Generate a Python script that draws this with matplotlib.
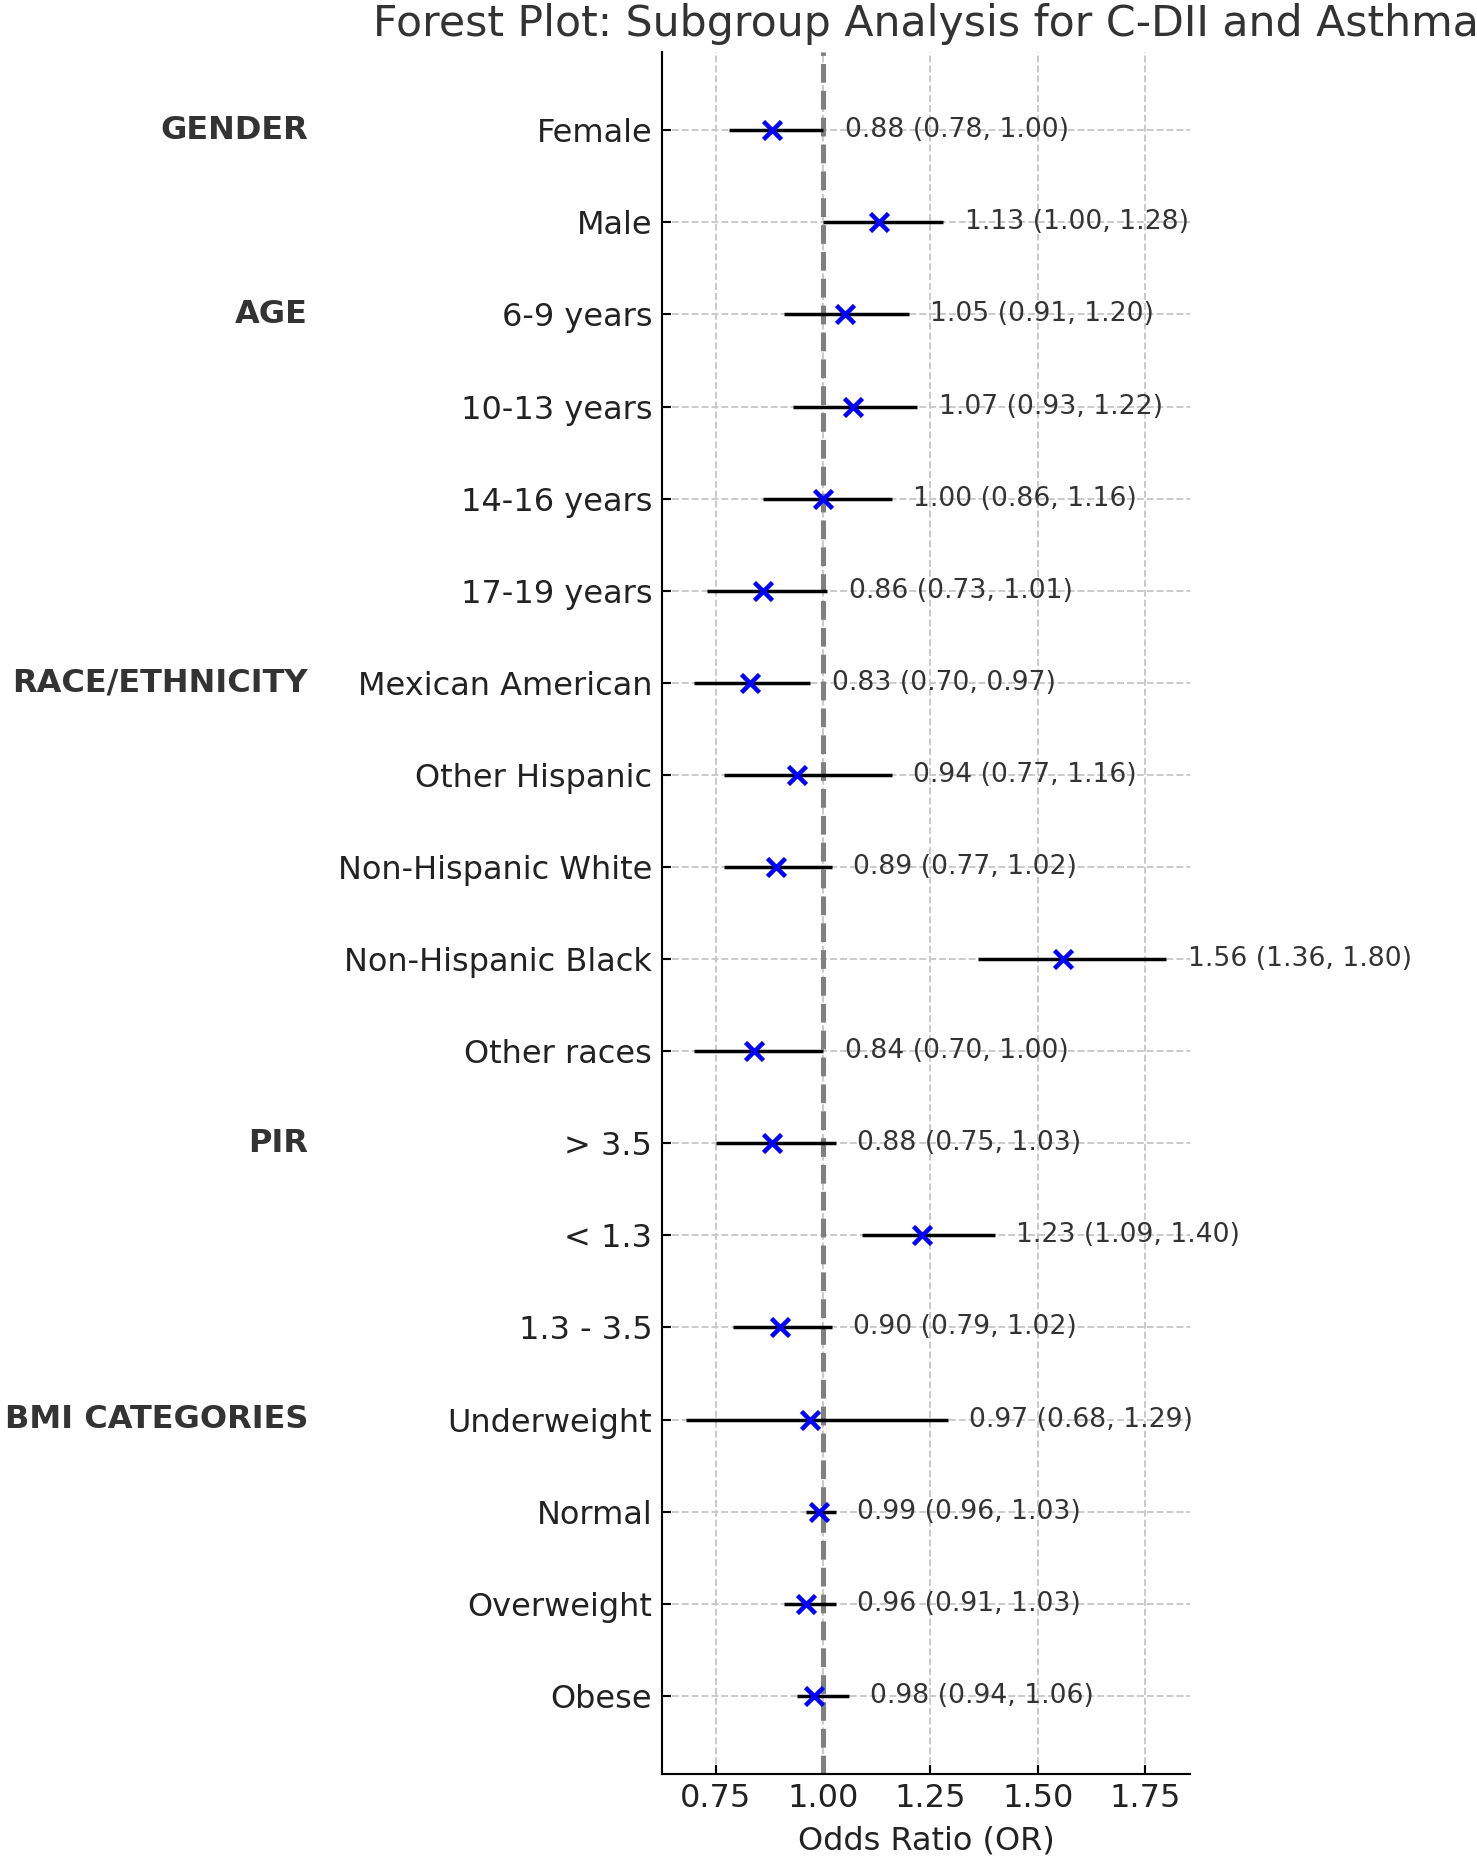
import numpy as np
import matplotlib
matplotlib.use("Agg")
from matplotlib import pyplot as plt

# ---------------------------------------------------------------------------
# Data
# ---------------------------------------------------------------------------
groups = ["GENDER", "AGE", "RACE/ETHNICITY", "PIR", "BMI CATEGORIES"]
group_sizes = [2, 4, 5, 3, 4]

subgroups = [
    "Female", "Male",
    "6-9 years", "10-13 years", "14-16 years", "17-19 years",
    "Mexican American", "Other Hispanic", "Non-Hispanic White",
    "Non-Hispanic Black", "Other races",
    "> 3.5", "< 1.3", "1.3 - 3.5",
    "Underweight", "Normal", "Overweight", "Obese",
]
odds_ratio = [0.88, 1.13, 1.05, 1.07, 1.00, 0.86, 0.83, 0.94, 0.89, 1.56,
              0.84, 0.88, 1.23, 0.90, 0.97, 0.99, 0.96, 0.98]
ci_lower = [0.78, 1.00, 0.91, 0.93, 0.86, 0.73, 0.70, 0.77, 0.77, 1.36,
            0.70, 0.75, 1.09, 0.79, 0.68, 0.96, 0.91, 0.94]
ci_upper = [1.00, 1.28, 1.20, 1.22, 1.16, 1.01, 0.97, 1.16, 1.02, 1.80,
            1.00, 1.03, 1.40, 1.02, 1.29, 1.03, 1.03, 1.06]

# ---------------------------------------------------------------------------
# Figure
# ---------------------------------------------------------------------------
DPI = 192
fig = plt.figure(figsize=(1477 / DPI, 1859 / DPI), dpi=DPI)
ax = fig.add_axes([0.448, 0.0457, 0.358, 0.9263])

y_pos = np.arange(len(subgroups))
or_arr = np.array(odds_ratio)
lo_arr = np.array(ci_lower)
hi_arr = np.array(ci_upper)

ax.errorbar(or_arr, y_pos, xerr=[or_arr - lo_arr, hi_arr - or_arr],
            fmt="x", color="blue", ecolor="black", elinewidth=1.3,
            capsize=0, markersize=6.8, markeredgewidth=1.7, zorder=3)
ax.axvline(1.0, color="gray", linestyle="--", linewidth=1.9, zorder=2)

for y, o, lo, hi in zip(y_pos, odds_ratio, ci_lower, ci_upper):
    ax.text(hi + 0.05, y, f"{o:.2f} ({lo:.2f}, {hi:.2f})",
            va="center", ha="left", fontsize=10, color="#333333")

# group headers on the far left, next to the first row of each group
start = 0
for g, n in zip(groups, group_sizes):
    ax.text(-0.2, start, g, ha="right", va="center", fontsize=12,
            fontweight="bold", color="#333333")
    start += n

ax.set_yticks(y_pos)
ax.set_yticklabels(subgroups)
ax.invert_yaxis()

ax.set_xticks([0.75, 1.00, 1.25, 1.50, 1.75])
ax.set_xlabel("Odds Ratio (OR)", fontsize=12, color="#222222")
ax.set_title("Forest Plot: Subgroup Analysis for C-DII and Asthma",
             fontsize=16, color="#333333")

ax.tick_params(axis="both", direction="in", labelsize=12, labelcolor="#222222")
ax.grid(True, linestyle="--", color="#c8c8c8", linewidth=0.7)
ax.set_axisbelow(True)
for side in ("top", "right"):
    ax.spines[side].set_visible(False)

fig.savefig("out.png", dpi=DPI)
